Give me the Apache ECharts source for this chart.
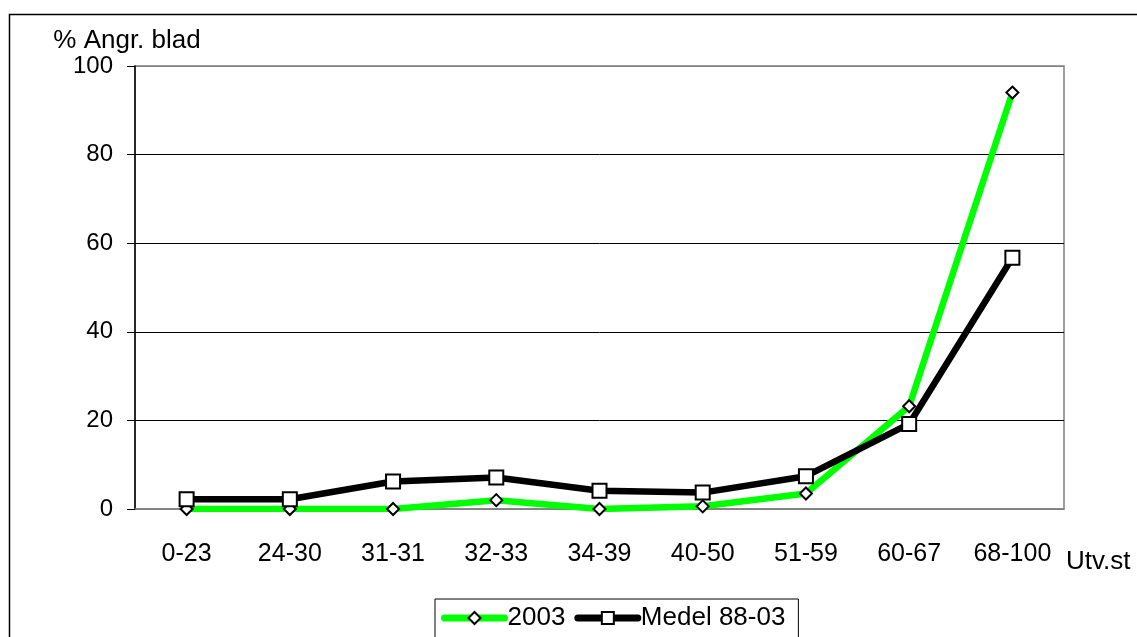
<!DOCTYPE html>
<html>
<head>
<meta charset="utf-8">
<script src="https://cdn.jsdelivr.net/npm/echarts@6/dist/echarts.min.js"></script>
<style>
html,body{margin:0;padding:0;background:#fff;}
#chart{width:1137px;height:637px;}
</style>
</head>
<body>
<div id="chart"></div>
<script>
var categories = ['0-23','24-30','31-31','32-33','34-39','40-50','51-59','60-67','68-100'];
var series2003 = [0, 0, 0, 2, 0, 0.6, 3.5, 23.2, 94];
var seriesMedel = [2.2, 2.2, 6.2, 7.1, 4.1, 3.7, 7.4, 19.2, 56.7];
var yTicks = [0, 20, 40, 60, 80, 100];
var seriesNames = ['2003', 'Medel 88-03'];
var yAxisName = '% Angr. blad';
var xAxisName = 'Utv.st';

var font = 'Liberation Sans, Arial, sans-serif';
var chart = echarts.init(document.getElementById('chart'), null, {renderer: 'canvas'});
chart.setOption({
  animation: false,
  backgroundColor: '#fff',
  textStyle: {fontFamily: font, color: '#000'},
  graphic: [{
    type: 'rect', left: 7, top: 12, silent: true,
    shape: {width: 1200, height: 700},
    style: {fill: 'none', stroke: '#000', lineWidth: 1.5}
  }],
  grid: {
    left: 135, right: 73, top: 66, bottom: 128,
    show: true, borderColor: '#808080', borderWidth: 1.5, backgroundColor: 'transparent'
  },
  legend: {
    data: seriesNames,
    left: 435, top: 599,
    orient: 'horizontal',
    padding: [6, 13, 20, 6],
    itemGap: 9,
    itemWidth: 60, itemHeight: 15,
    borderColor: '#000', borderWidth: 1,
    lineStyle: {width: 7, cap: 'round'},
    textStyle: {fontFamily: font, fontSize: 26, color: '#000', padding: [0, 0, 0, -2]}
  },
  xAxis: {
    type: 'category',
    data: categories,
    boundaryGap: true,
    name: xAxisName,
    nameLocation: 'end',
    nameGap: 2,
    nameTextStyle: {fontFamily: font, fontSize: 26, color: '#000', align: 'left', verticalAlign: 'top', padding: [40, 0, 0, 0]},
    axisLine: {show: true, lineStyle: {color: '#808080', width: 1.5}},
    axisTick: {show: false},
    axisLabel: {fontFamily: font, fontSize: 25, color: '#000', margin: 33, interval: 0},
    splitLine: {show: false}
  },
  yAxis: {
    type: 'value',
    min: yTicks[0], max: yTicks[yTicks.length - 1], interval: 20,
    name: yAxisName,
    nameLocation: 'end',
    nameGap: 11,
    nameTextStyle: {fontFamily: font, fontSize: 26, color: '#000', align: 'center', verticalAlign: 'bottom', padding: [0, 16, 0, 0]},
    axisLine: {show: true, lineStyle: {color: '#000', width: 1.5}},
    axisTick: {show: true, length: 8, lineStyle: {color: '#000', width: 1}},
    axisLabel: {fontFamily: font, fontSize: 24, color: '#000', margin: 22},
    splitLine: {show: true, lineStyle: {color: ['#808080', '#000', '#000', '#000', '#000', '#808080'], width: 1}}
  },
  series: [
    {
      name: seriesNames[0], type: 'line', data: series2003,
      symbol: 'diamond', symbolSize: 12,
      lineStyle: {color: '#00ff00', width: 6.5, cap: 'round', join: 'round'},
      itemStyle: {color: '#fff', borderColor: '#000', borderWidth: 2},
      z: 2
    },
    {
      name: seriesNames[1], type: 'line', data: seriesMedel,
      symbol: 'rect', symbolSize: 14,
      lineStyle: {color: '#000', width: 6.5, cap: 'round', join: 'round'},
      itemStyle: {color: '#fff', borderColor: '#000', borderWidth: 2},
      z: 3
    }
  ]
});
</script>
</body>
</html>
